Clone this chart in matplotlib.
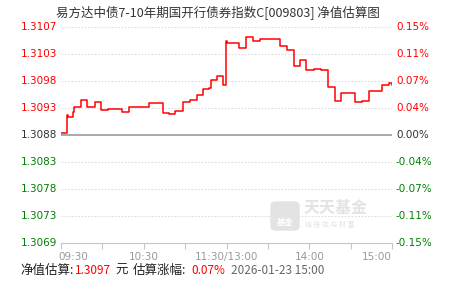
import matplotlib
matplotlib.use("Agg")
import matplotlib.pyplot as plt
from matplotlib.patches import FancyBboxPatch

plt.rcParams['font.family'] = ['Noto Sans CJK SC', 'DejaVu Sans']

# intraday estimate: minutes of trading since 09:30 and % change vs last NAV
minutes = [0, 4.4, 5, 8.7, 9.4, 14.5, 18.9, 24.7, 29, 34, 44, 49, 64, 74, 78, 83,
           88.5, 93.5, 98.6, 103, 107, 109, 113, 117.5, 119.6, 120.4, 129, 134,
           139, 144, 159, 164, 169, 173, 178, 183.5, 188.5, 193.6, 198.7, 203,
           213, 218, 223, 233, 238, 240]
pct = [0.003, 0.028, 0.025, 0.032, 0.039, 0.049, 0.039, 0.046, 0.035, 0.036,
       0.032, 0.039, 0.044, 0.031, 0.029, 0.033, 0.046, 0.049, 0.056, 0.064,
       0.065, 0.076, 0.082, 0.069, 0.131, 0.128, 0.121, 0.136, 0.131, 0.133,
       0.124, 0.118, 0.096, 0.104, 0.090, 0.092, 0.090, 0.067, 0.047, 0.058,
       0.046, 0.047, 0.061, 0.069, 0.072, 0.070]

y_ticks = [0.15, 0.1125, 0.075, 0.0375, 0, -0.0375, -0.075, -0.1125, -0.15]
left_labels = ['1.3107', '1.3103', '1.3098', '1.3093', '1.3088',
               '1.3083', '1.3078', '1.3073', '1.3069']
right_labels = ['0.15%', '0.11%', '0.07%', '0.04%', '0.00%',
                '-0.04%', '-0.07%', '-0.11%', '-0.15%']
x_label_pos = [0, 60, 120, 180, 240]
x_labels = ['09:30', '10:30', '11:30/13:00', '14:00', '15:00']

title = '易方达中债7-10年期国开行债券指数C[009803] 净值估算图'
nav_est = '1.3097'
chg_est = '0.07%'
stamp = '2026-01-23 15:00'

W, H = 451, 281
fig = plt.figure(figsize=(W / 100, H / 100), dpi=100)
ax = fig.add_axes([61 / W, 38 / H, 331 / W, 216 / H])

for y in y_ticks:
    if y == 0:
        ax.axhline(y, color='#999999', lw=1.2, zorder=1)
    else:
        ax.axhline(y, color='#dddddd', lw=0.8, ls=(0, (1.5, 1.5)), zorder=1)

ax.plot(minutes, pct, color='red', lw=1.1, drawstyle='steps-post', zorder=3)

ax.set_xlim(0, 240)
ax.set_ylim(-0.15, 0.15)
for s in ['top', 'right', 'left']:
    ax.spines[s].set_visible(False)
ax.spines['bottom'].set_color('#b8c8d8')
ax.set_xticks(range(0, 241, 30))
ax.set_xticklabels([])
ax.tick_params(axis='x', colors='#b8c8d8', length=4, direction='out')
ax.set_yticks([])

def ycol(v):
    if v > 0:
        return 'red'
    if v < 0:
        return 'green'
    return '#333333'

for v, ll, rl in zip(y_ticks, left_labels, right_labels):
    ax.text(-0.012, v, ll, transform=ax.get_yaxis_transform(), ha='right', va='center',
            fontsize=7.5, color=ycol(v), family='DejaVu Sans')
    ax.text(1.012, v, rl, transform=ax.get_yaxis_transform(), ha='left', va='center',
            fontsize=7.5, color=ycol(v), family='DejaVu Sans')

for p, lab in zip(x_label_pos, x_labels):
    ha = 'center'
    if p == 0:
        ha = 'left'
    elif p == 240:
        ha = 'right'
    ax.text(p - (2 if p == 0 else 0), -0.162, lab, ha=ha, va='top', fontsize=7.5,
            color='#999999', family='DejaVu Sans')

# watermark
logo = FancyBboxPatch((271 / W, (H - 230) / H), 28 / W, 28 / H,
                      boxstyle='round,pad=0,rounding_size=0.012',
                      transform=fig.transFigure, color='#e3e3e3', zorder=0)
fig.patches.append(logo)
fig.text(285 / W, (H - 222) / H, '基金', ha='center', va='center', fontsize=6,
         color='white', weight='bold')
fig.text(304 / W, (H - 208) / H, '天天基金', ha='left', va='center', fontsize=11.5,
         color='#e3e3e3', weight='bold')
fig.text(305 / W, (H - 225) / H, '链 接 您 与 财 富', ha='left', va='center', fontsize=5,
         color='#e3e3e3')

fig.text(218 / W, (H - 13) / H, title, ha='center', va='center', fontsize=9, color='#333333')

by = (H - 270) / H
fig.text(20 / W, by, '净值估算:', ha='left', va='center', fontsize=9, color='#222222')
fig.text(75 / W, by, nav_est, ha='left', va='center', fontsize=8.5, color='red')
fig.text(115 / W, by, '元', ha='left', va='center', fontsize=9, color='#222222')
fig.text(133 / W, by, '估算涨幅:', ha='left', va='center', fontsize=9, color='#222222')
fig.text(191 / W, by, chg_est, ha='left', va='center', fontsize=8.5, color='red')
fig.text(231 / W, by, stamp, ha='left', va='center', fontsize=8.5, color='#666666')

fig.savefig('out.png', dpi=100)
